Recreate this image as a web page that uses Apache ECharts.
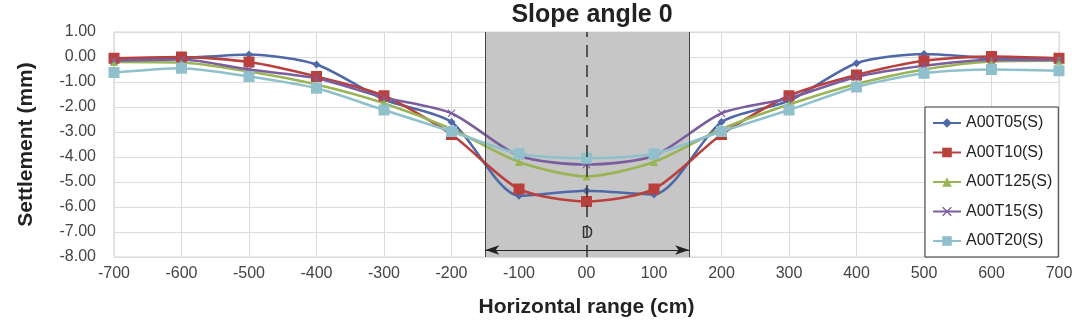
<!DOCTYPE html>
<html lang="en">
<head>
    <meta charset="UTF-8">
    <title>Slope angle 0</title>
    <script src="https://cdn.jsdelivr.net/npm/echarts@6/dist/echarts.min.js"></script>
    <style>
        html, body { margin: 0; padding: 0; background: #fff; }
        #chart1 { width: 1083px; height: 321px; }
    </style>
</head>
<body>
    <div id="chart1"></div>
    <script type="text/javascript">
        // horizontal positions (cm)
        var xs = [-700, -600, -500, -400, -300, -200, -100, 0, 100, 200, 300, 400, 500, 600, 700];

        // settlement (mm) per test
        var a00t05 = [-0.1, -0.05, 0.1, -0.3, -1.7, -2.6, -5.55, -5.35, -5.5, -2.6, -1.75, -0.25, 0.12, -0.05, -0.1];
        var a00t10 = [-0.05, 0.0, -0.2, -0.78, -1.55, -3.1, -5.28, -5.78, -5.28, -3.1, -1.55, -0.72, -0.15, 0.02, -0.05];
        var a00t125 = [-0.2, -0.22, -0.58, -1.1, -1.85, -2.88, -4.2, -4.78, -4.2, -2.88, -1.9, -1.08, -0.5, -0.18, -0.15];
        var a00t15 = [-0.15, -0.1, -0.5, -0.85, -1.62, -2.25, -3.95, -4.3, -3.95, -2.25, -1.65, -0.8, -0.35, -0.12, -0.12];
        var a00t20 = [-0.62, -0.45, -0.78, -1.25, -2.12, -2.98, -3.87, -4.05, -3.87, -2.98, -2.12, -1.2, -0.65, -0.5, -0.55];

        // loaded zone D and its dimension arrow
        var bandStart = -150, bandEnd = 152;
        var arrowY = -7.72;

        var font = 'Liberation Sans, Arial, sans-serif';
        var crossPath = 'path://M0,1L1,0L5,4L9,0L10,1L6,5L10,9L9,10L5,6L1,10L0,9L4,5Z';

        function pairs(vals) {
            return xs.map(function (x, i) { return [x, vals[i]]; });
        }

        function line(name, vals, color, symbol, size) {
            return {
                name: name,
                type: 'line',
                data: pairs(vals),
                smooth: 0.25,
                symbol: symbol,
                symbolSize: size,
                lineStyle: { color: color, width: 2.6 },
                itemStyle: { color: color }
            };
        }

        var chart1 = echarts.init(document.getElementById('chart1'));

        var series = [
            line('A00T05(S)', a00t05, '#4F69A8', 'diamond', 8),
            line('A00T10(S)', a00t10, '#B9403D', 'rect', 11),
            line('A00T125(S)', a00t125, '#98B455', 'triangle', 8),
            line('A00T15(S)', a00t15, '#7B5E9E', crossPath, 8),
            line('A00T20(S)', a00t20, '#8FC0CB', 'rect', 11)
        ];

        // gray band, its edges, centre line and the D arrow go on the first series
        series[0].markArea = {
            silent: true,
            itemStyle: { color: '#C6C6C6' },
            data: [[{ xAxis: bandStart }, { xAxis: bandEnd }]]
        };
        series[0].markLine = {
            silent: true,
            symbol: 'none',
            label: { show: false },
            data: [
                { xAxis: bandStart, lineStyle: { color: '#444', width: 1, type: 'solid' } },
                { xAxis: bandEnd, lineStyle: { color: '#444', width: 1, type: 'solid' } },
                { xAxis: 0, lineStyle: { color: '#333', width: 1.5, type: [12, 8] } },
                [
                    {
                        coord: [bandStart, arrowY],
                        symbol: 'arrow',
                        symbolSize: [7, 14],
                        lineStyle: { color: '#222', width: 1, type: 'solid' },
                        label: {
                            show: true, position: 'middle', formatter: 'D',
                            color: '#333', fontSize: 16, fontFamily: font, distance: 8
                        }
                    },
                    { coord: [bandEnd, arrowY], symbol: 'arrow', symbolSize: [7, 14] }
                ]
            ]
        };

        var option = {
            animation: false,
            backgroundColor: '#fff',
            title: {
                text: 'Slope angle 0',
                left: 587,
                textAlign: 'center',
                top: -2,
                textStyle: { fontFamily: font, fontSize: 25, fontWeight: 'bold', color: '#222' }
            },
            grid: {
                left: 114,
                right: 24,
                top: 32,
                bottom: 64,
                outerBoundsMode: 'none',
                containLabel: false,
                show: true,
                borderColor: '#d4d4d4',
                borderWidth: 1
            },
            legend: {
                orient: 'vertical',
                left: 925,
                top: 107,
                padding: [8, 6, 8, 7],
                itemGap: 13.5,
                itemWidth: 28,
                itemHeight: 12,
                backgroundColor: '#fff',
                borderColor: '#333',
                borderWidth: 1,
                textStyle: { fontFamily: font, fontSize: 16, color: '#222' },
                data: series.map(function (s) { return s.name; })
            },
            xAxis: {
                type: 'value',
                min: -700,
                max: 700,
                interval: 100,
                name: 'Horizontal range (cm)',
                nameLocation: 'middle',
                nameGap: 40,
                nameTextStyle: { fontFamily: font, fontSize: 21, fontWeight: 'bold', color: '#222' },
                axisLine: { show: false },
                axisTick: { show: false },
                axisLabel: {
                    margin: 9,
                    fontFamily: font,
                    fontSize: 16,
                    color: '#444',
                    formatter: function (v) { return v === 0 ? '00' : String(v); }
                },
                splitLine: { show: true, lineStyle: { color: '#dcdcdc', width: 1 } }
            },
            yAxis: {
                type: 'value',
                min: -8,
                max: 1,
                interval: 1,
                name: 'Settlement (mm)',
                nameLocation: 'middle',
                nameGap: 77,
                nameTextStyle: { fontFamily: font, fontSize: 21, fontWeight: 'bold', color: '#222' },
                axisLine: { show: false },
                axisTick: { show: false },
                axisLabel: {
                    margin: 18,
                    fontFamily: font,
                    fontSize: 16,
                    color: '#444',
                    formatter: function (v) { return v.toFixed(2); }
                },
                splitLine: { show: true, lineStyle: { color: '#dcdcdc', width: 1 } }
            },
            series: series
        };

        chart1.setOption(option);
    </script>
</body>
</html>
